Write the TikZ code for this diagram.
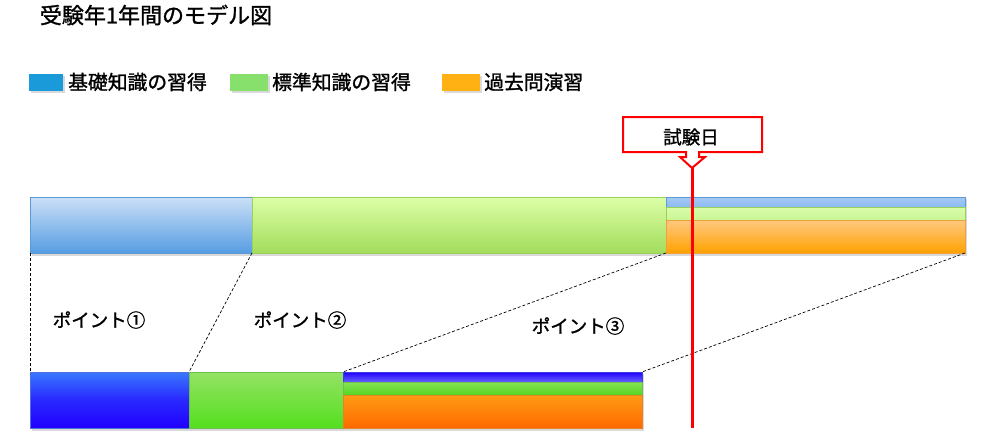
\documentclass[tikz,border=0pt]{standalone}
\usepackage{fontspec}
\setmainfont{Noto Sans CJK JP}[FakeBold=1.3]
\definecolor{lgblue}{HTML}{1B9AD9}
\definecolor{lggreen}{HTML}{88E06C}
\definecolor{lgorange}{HTML}{FFB012}
\begin{document}
\begin{tikzpicture}[x=1pt,y=-1pt,
  bar/.style={rectangle, inner sep=0pt, outer sep=0pt, anchor=north west, line width=0.6pt},
  sq/.style={rectangle, inner sep=0pt, outer sep=0pt, anchor=north west, minimum width=34pt, minimum height=17pt},
  lbl/.style={font=\fontsize{19.8}{19.8}\selectfont, inner sep=0pt},
  plbl/.style={font=\fontsize{18.5}{18.5}\selectfont, inner sep=0pt},
  link/.style={line width=0.7pt, dash pattern=on 3pt off 2pt},
  shd/.style={fill=black, opacity=0.15}]
\useasboundingbox (0,0) rectangle (995,436);
\fill[white] (0,0) rectangle (995,436);

% title
\node[font=\fontsize{22}{22}\selectfont, inner sep=0pt] (title) at (156,15) {受験年1年間のモデル図};

% legend
\fill[shd] (31,76) rectangle (65,93);
\node[sq, fill=lgblue] (lg1) at (29,74) {};
\node[lbl, anchor=west] (lt1) at (68,82) {基礎知識の習得};
\fill[shd] (232,76) rectangle (270,93);
\node[sq, fill=lggreen, minimum width=38pt] (lg2) at (230,74) {};
\node[lbl, anchor=west] (lt2) at (272,82) {標準知識の習得};
\fill[shd] (444,76) rectangle (482,93);
\node[sq, fill=lgorange, minimum width=38pt] (lg3) at (442,74) {};
\node[lbl, anchor=west] (lt3) at (484,82) {過去問演習};

% shadows
\fill[shd] (32,199) rectangle (967,255.5);
\fill[shd] (32,374) rectangle (644,430.5);

% top bar
\node[bar, minimum width=222pt, minimum height=56pt, top color={rgb,255:red,204;green,224;blue,247}, bottom color={rgb,255:red,86;green,157;blue,226}, draw={rgb,255:red,91;green,155;blue,213}] (tb) at (30,197) {};
\node[bar, minimum width=414pt, minimum height=56pt, top color={rgb,255:red,220;green,255;blue,168}, bottom color={rgb,255:red,163;green,220;blue,91}, draw={rgb,255:red,155;green,208;blue,90}] (tg) at (252,197) {};
\node[bar, minimum width=299pt, minimum height=10pt, top color={rgb,255:red,166;green,202;blue,246}, bottom color={rgb,255:red,140;green,186;blue,240}, draw={rgb,255:red,91;green,155;blue,213}] (t1) at (666,197) {};
\node[bar, minimum width=299pt, minimum height=13pt, top color={rgb,255:red,218;green,252;blue,170}, bottom color={rgb,255:red,200;green,246;blue,148}, draw={rgb,255:red,155;green,208;blue,90}] (t2) at (666,207) {};
\node[bar, minimum width=299pt, minimum height=33pt, top color={rgb,255:red,255;green,200;blue,128}, bottom color={rgb,255:red,255;green,162;blue,0}, draw={rgb,255:red,240;green,160;blue,60}] (t3) at (666,220) {};

% bottom bar
\node[bar, minimum width=159pt, minimum height=56pt, top color={rgb,255:red,58;green,120;blue,255}, bottom color={rgb,255:red,34;green,0;blue,255}, middle color={rgb,255:red,40;green,40;blue,255}, draw={rgb,255:red,80;green,110;blue,220}] (bb) at (30,372) {};
\node[bar, minimum width=154pt, minimum height=56pt, top color={rgb,255:red,148;green,226;blue,100}, bottom color={rgb,255:red,84;green,224;blue,30}, draw={rgb,255:red,110;green,190;blue,80}] (bg) at (189,372) {};
\node[bar, minimum width=299pt, minimum height=10pt, top color={rgb,255:red,36;green,0;blue,255}, bottom color={rgb,255:red,100;green,100;blue,255}, draw={rgb,255:red,60;green,60;blue,230}] (b1) at (343,372) {};
\node[bar, minimum width=299pt, minimum height=13pt, top color={rgb,255:red,134;green,228;blue,86}, bottom color={rgb,255:red,84;green,212;blue,32}, draw={rgb,255:red,110;green,190;blue,80}] (b2) at (343,382) {};
\node[bar, minimum width=299pt, minimum height=33pt, top color={rgb,255:red,255;green,154;blue,20}, bottom color={rgb,255:red,255;green,106;blue,0}, draw={rgb,255:red,230;green,130;blue,40}] (b3) at (343,395) {};

% dashed links
\draw[link] (tb.south west) -- (bb.north west);
\draw[link] (tb.south east) -- (bg.north west);
\draw[link] (tg.south east) -- (b1.north west);
\draw[link] (t3.south east) -- (b1.north east);

% labels
\node[plbl] (p1) at (99,320) {ポイント①};
\node[plbl] (p2) at (300,320) {ポイント②};
\node[plbl] (p3) at (578,326) {ポイント③};

% exam day callout
\coordinate (tip) at (692,168);
\coordinate (lineend) at (692,428);
\draw[red, line width=3pt] (tip) -- (lineend);
\draw[red, line width=2pt, fill=white, line join=miter]
  (623,117) -- (762,117) -- (762,152) -- (699,152) -- (699,157) -- (705,157) -- (tip)
  -- (680,157) -- (686,157) -- (686,152) -- (623,152) -- cycle;
\node[plbl] (exam) at (691,137) {試験日};
\end{tikzpicture}
\end{document}
